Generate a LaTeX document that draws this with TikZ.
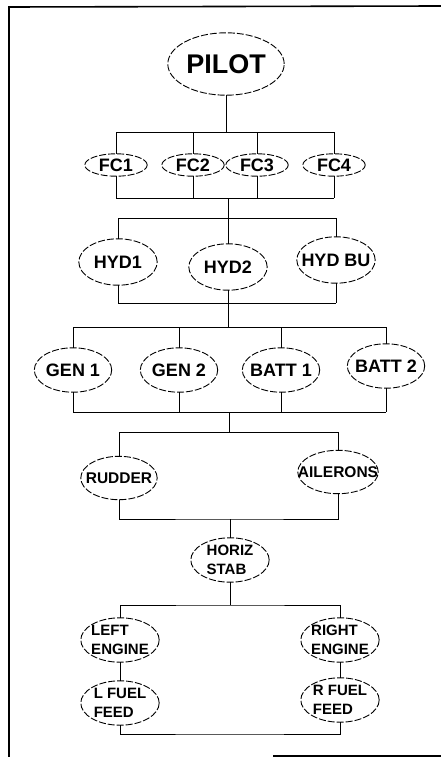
\documentclass[tikz,border=0pt]{standalone}
\usepackage{fontspec}
\setsansfont{Liberation Sans}
\usetikzlibrary{calc}
\tikzset{
    base/.style={font=\sffamily\bfseries, align=center, inner sep=0pt},
    blob/.style={base, rectangle},
    boss/.style={blob, minimum width=116pt, minimum height=62pt,
                 font=\sffamily\bfseries\fontsize{27}{29}\selectfont},
    fcbox/.style={blob, minimum width=62pt, minimum height=22pt,
                  font=\sffamily\bfseries\fontsize{18}{20}\selectfont},
    hydbox/.style={blob, minimum width=78pt, minimum height=46pt,
                   font=\sffamily\bfseries\fontsize{18}{20}\selectfont},
    genbox/.style={blob, minimum width=77pt, minimum height=44pt,
                   font=\sffamily\bfseries\fontsize{18}{20}\selectfont},
    surfbox/.style={blob, minimum width=76pt, minimum height=43pt,
                    font=\sffamily\bfseries\fontsize{15.5}{18}\selectfont},
    duobox/.style={blob, align=left, minimum width=78pt, minimum height=44pt,
                   font=\sffamily\bfseries\fontsize{15}{19}\selectfont},
    rim/.style={draw=black, line width=0.9pt, dash pattern=on 7pt off 2pt},
    wire/.style={draw=black, line width=1pt},
    frame/.style={draw=black, line width=1.6pt}
}
\begin{document}
\begin{tikzpicture}[x=1pt, y=-1pt]
  \useasboundingbox (0,0) rectangle (441,757);

  % Page frame
  \draw[frame] (9,757) -- (9,7) -- (441,6);
  \draw[frame] (273,756) -- (441,756);

  % Top
  \node[boss] (pilot) at (226,64) {PILOT};

  % Flight computers
  \node[fcbox] (fc1) at (116,165) {FC1};
  \node[fcbox] (fc2) at (193,165) {FC2};
  \node[fcbox] (fc3) at (257,165) {FC3};
  \node[fcbox] (fc4) at (334,165) {FC4};

  % Hydraulics
  \node[hydbox] (hyd1) at (118,262) {HYD1};
  \node[hydbox] (hyd2) at (228,267) {HYD2};
  \node[hydbox] (hydbu) at (336,260) {HYD BU};

  % Power
  \node[genbox] (gen1) at (73,370) {GEN 1};
  \node[genbox] (gen2) at (179,370) {GEN 2};
  \node[genbox] (batt1) at (281,370) {BATT 1};
  \node[genbox] (batt2) at (386,366) {BATT 2};

  % Surfaces
  \node[surfbox] (rudder) at (119,478) {RUDDER};
  \node[surfbox] (ailerons) at (338,472) {AILERONS};
  \node[duobox] (stab) at (230,560) {HORIZ\\STAB};

  % Engines and fuel
  \node[duobox] (leng) at (120,640) {LEFT\\ENGINE};
  \node[duobox] (reng) at (340,640) {RIGHT\\ENGINE};
  \node[duobox] (lfuel) at (120,703) {L FUEL\\FEED};
  \node[duobox] (rfuel) at (340,700) {R FUEL\\FEED};

  % Ellipses round the nodes
  \foreach \nd in {pilot,fc1,fc2,fc3,fc4,hyd1,hyd2,hydbu,gen1,gen2,batt1,batt2,
                   rudder,ailerons,stab,leng,reng,lfuel,rfuel}
    \draw[rim] let \p1=($(\nd.north east)-(\nd.center)$) in
      (\nd.center) ellipse [x radius=\x1, y radius=\y1];

  % Bus points
  \coordinate (s1) at (226,132);
  \coordinate (m1) at (228,198);
  \coordinate (s2) at (228,218);
  \coordinate (m2) at (228,303);
  \coordinate (s3) at (228,327);
  \coordinate (m3) at (229,412);
  \coordinate (s4) at (229,432);
  \coordinate (m4) at (230,519);
  \coordinate (s5) at (230,605);
  \coordinate (m5) at (229,734);

  % Pilot to FC
  \draw[wire] (pilot.south) -- (s1);
  \draw[wire] (fc1.north |- s1) -- (fc4.north |- s1);
  \foreach \nd in {fc1,fc2,fc3,fc4}
    \draw[wire] (\nd.north |- s1) -- (\nd.north);

  % FC to HYD
  \draw[wire] (fc1.south |- m1) -- (fc4.south |- m1);
  \foreach \nd in {fc1,fc2,fc3,fc4}
    \draw[wire] (\nd.south) -- (\nd.south |- m1);
  \draw[wire] (m1) -- (s2);
  \draw[wire] (hyd1.north |- s2) -- (hydbu.north |- s2);
  \foreach \nd in {hyd1,hyd2,hydbu}
    \draw[wire] (\nd.north |- s2) -- (\nd.north);

  % HYD to power
  \draw[wire] (hyd1.south |- m2) -- (hydbu.south |- m2);
  \foreach \nd in {hyd1,hyd2,hydbu}
    \draw[wire] (\nd.south) -- (\nd.south |- m2);
  \draw[wire] (m2) -- (s3);
  \draw[wire] (gen1.north |- s3) -- (batt2.north |- s3);
  \foreach \nd in {gen1,gen2,batt1,batt2}
    \draw[wire] (\nd.north |- s3) -- (\nd.north);

  % Power to surfaces
  \draw[wire] (gen1.south |- m3) -- (batt2.south |- m3);
  \foreach \nd in {gen1,gen2,batt1,batt2}
    \draw[wire] (\nd.south) -- (\nd.south |- m3);
  \draw[wire] (m3) -- (s4);
  \draw[wire] (rudder.north |- s4) -- (ailerons.north |- s4);
  \foreach \nd in {rudder,ailerons}
    \draw[wire] (\nd.north |- s4) -- (\nd.north);

  % Surfaces to stab
  \draw[wire] (rudder.south) |- (m4) -| (ailerons.south);
  \draw[wire] (m4) -- (stab.north);

  % Stab to engines
  \draw[wire] (stab.south) -- (s5);
  \draw[wire] (leng.north) |- (s5) -| (reng.north);

  % Engines to fuel
  \draw[wire] (leng.south) -- (lfuel.north);
  \draw[wire] (reng.south) -- (rfuel.north);
  \draw[wire] (lfuel.south) |- (m5) -| (rfuel.south);
\end{tikzpicture}
\end{document}
